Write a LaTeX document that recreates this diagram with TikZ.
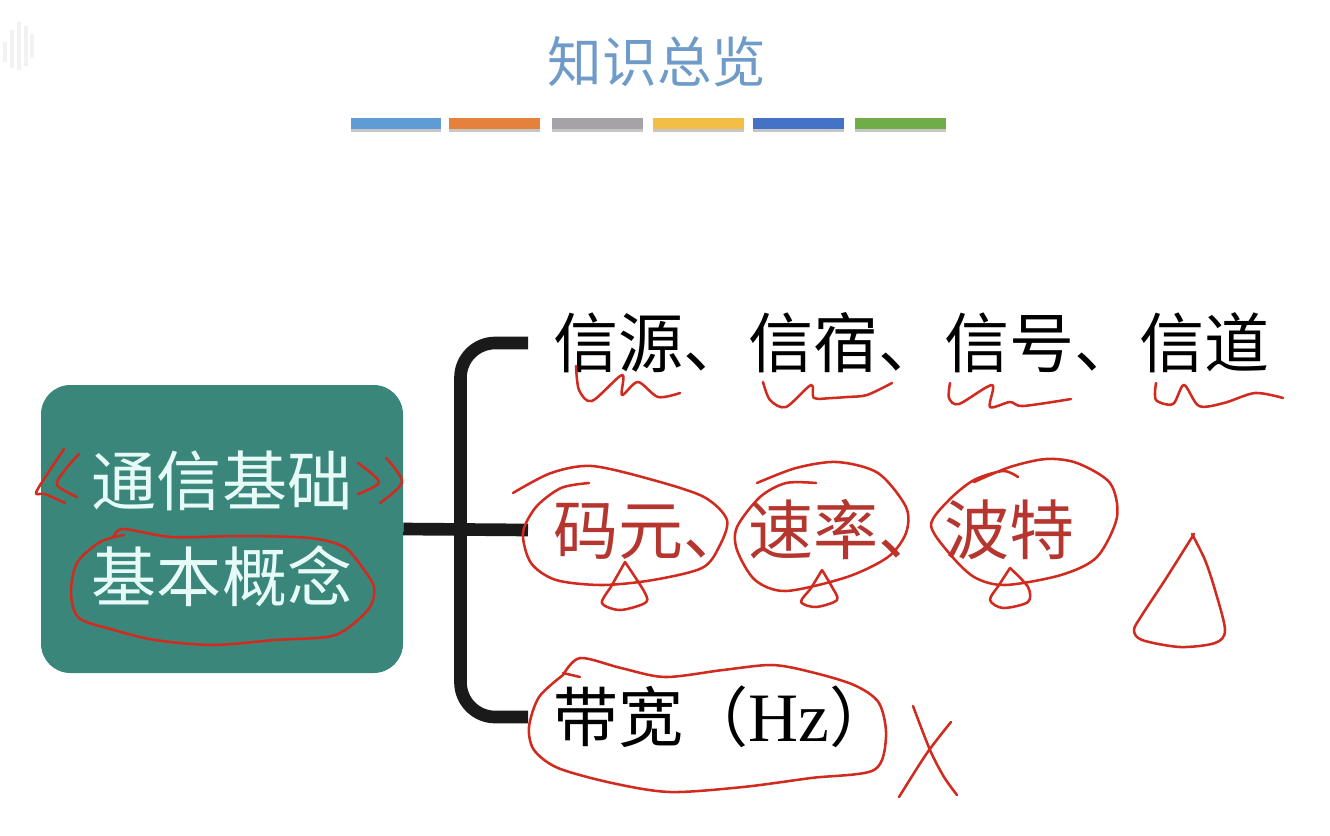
\documentclass[tikz,border=0pt]{standalone}
\usepackage{fontspec}
\newfontfamily\cjk{Noto Sans CJK SC}
\newfontfamily\hzfont{Liberation Serif}
\usetikzlibrary{shadows}
\definecolor{tealbox}{HTML}{3A867A}
\definecolor{boxtext}{HTML}{E6FBF8}
\definecolor{titleblue}{HTML}{6F9BC8}
\definecolor{inkred}{HTML}{D12A1F}
\definecolor{redtext}{HTML}{B5352F}
\definecolor{barblack}{HTML}{1A1A1A}
\definecolor{barA}{HTML}{5F9BD5}
\definecolor{barB}{HTML}{E5813C}
\definecolor{barC}{HTML}{A5A3A8}
\definecolor{barD}{HTML}{F2BE45}
\definecolor{barE}{HTML}{4472C4}
\definecolor{barF}{HTML}{70AD47}
\tikzstyle{ink} = [draw=inkred, line width=1.9pt, line cap=round, line join=round]
\tikzstyle{brace} = [draw=barblack, line width=9.5pt]
\tikzstyle{rowtext} = [anchor=west, inner xsep=19pt, inner ysep=0pt, font=\cjk\fontsize{48.8pt}{56pt}\selectfont]
\tikzstyle{colorbar} = [minimum height=8pt, inner sep=0pt, drop shadow={shadow xshift=0pt, shadow yshift=-2pt, opacity=0.45}]

\begin{document}
\begin{tikzpicture}[x=0.75pt, y=-0.75pt]
          \useasboundingbox (0,0) rectangle (1330,835);

          % Faint mark in the corner
          \foreach \xa/\ya/\yb in {3/42/62, 10/30/68, 17/22/70, 24/26/66, 30/34/58}
            \fill[black!5] (\xa,\ya) rectangle ({\xa+4},\yb);

          % Node positions
          \node[text=titleblue, font=\cjk\fontsize{41pt}{48pt}\selectfont] (title) at (657,62) {知识总览};
          \node[fill=tealbox, text=boxtext, rounded corners=22pt, minimum width=271.5pt, minimum height=216pt,
                align=center, font=\cjk\fontsize{48.8pt}{72pt}\selectfont] (base) at (222,529) {通信基础\\基本概念};
          \node[rowtext] (rowA) at (528,343) {信源、信宿、信号、信道};
          \node[rowtext, text=redtext] (rowB) at (528,530) {码元、速率、波特};
          \node[rowtext] (rowC) at (528,717) {带宽（{\hzfont\fontsize{52pt}{56pt}\selectfont Hz}）};
          \coordinate (spine) at (460.5,530);

          % Colour bars under the title
          \foreach \name/\xa/\xb in {barA/351/441, barB/449/540, barC/552/643, barD/653/744, barE/753/844, barF/855/946}
            \node[colorbar, fill=\name, minimum width={(\xb-\xa)*0.75pt}] (\name) at ({(\xa+\xb)/2},123.5) {};

          % Edges
          \draw[brace] (base.east) -- (rowB.west);
          \draw[brace, rounded corners=26pt] (rowA.west) -| (spine) |- (rowC.west);

          % Pen marks: brackets round the title of the box
          \draw[ink] plot[smooth] coordinates {(64,449) (48,473) (36,493) (45,494) (65,503)};
          \draw[ink] plot[smooth] coordinates {(79,454) (65,470) (57,485) (77,497)};
          \draw[ink] plot[smooth] coordinates {(358,463) (379,482) (358,494)};
          \draw[ink] plot[smooth] coordinates {(386,458) (402,482) (380,503)};
          \draw[ink] plot[smooth] coordinates {(114,536) (124,529) (172,537) (241,536) (310,538) (344,547) (362,567) (374,587) (370,607) (348,628) (327,637) (275,640) (213,645) (155,640) (114,630) (79,618) (71,593) (77,563) (100,542) (124,535)};

          % Pen marks: first row
          \draw[ink] plot[smooth] coordinates {(576,366) (579,390) (592,401) (622,375) (622,395) (638,382) (658,397) (680,393)};
          \draw[ink] plot[smooth] coordinates {(763,382) (770,400) (786,407) (811,385) (814,398) (832,398) (847,397) (867,395) (892,383)};
          \draw[ink] plot[smooth] coordinates {(950,383) (949,398) (959,404) (992,385) (990,407) (1010,402) (1023,406) (1071,399)};
          \draw[ink] plot[smooth] coordinates {(1156,383) (1156,400) (1173,404) (1184,385) (1199,406) (1224,403) (1255,393) (1283,398)};

          % Pen marks: second row
          \draw[ink] plot[smooth] coordinates {(513,493) (551,473) (592,466) (653,480) (704,497) (727,520) (719,547) (702,568) (653,580) (602,585) (556,580) (531,563) (523,533) (536,507) (561,488) (589,483)};
          \draw[ink] plot[smooth] coordinates {(625,562) (612,585) (602,603) (620,610) (645,603) (645,593) (625,562)};
          \draw[ink] plot[smooth] coordinates {(757,483) (796,468) (837,462) (878,473) (906,507) (906,533) (888,557) (847,577) (786,591) (755,580) (737,550) (737,527) (760,497) (786,483) (816,483)};
          \draw[ink] plot[smooth] coordinates {(822,570) (811,588) (801,602) (816,607) (837,600) (832,587) (822,570)};
          \draw[ink] plot[smooth] coordinates {(1018,477) (1003,471) (974,480) (949,500) (931,525) (949,553) (974,577) (1005,585) (1061,575) (1097,557) (1117,517) (1110,483) (1077,463) (1046,459) (1010,467) (974,482)};
          \draw[ink] plot[smooth] coordinates {(1010,568) (999,585) (990,600) (1003,608) (1028,602) (1028,587) (1010,568)};
          \draw[ink] plot[smooth] coordinates {(1194,534) (1165,580) (1142,615) (1134,630) (1142,640) (1180,647) (1215,643) (1225,630) (1215,590) (1205,560) (1192,534)};

          % Pen marks: third row
          \draw[ink] plot[smooth] coordinates {(563,673) (580,677)};
          \draw[ink] plot[smooth] coordinates {(563,675) (580,658) (621,668) (665,677) (723,670) (772,665) (811,672) (854,685) (879,703) (886,737) (874,770) (811,778) (743,787) (670,792) (612,783) (558,768) (534,750) (529,727) (539,697) (563,675)};
          \draw[ink] plot[smooth] coordinates {(913,706) (930,750) (944,777) (957,795)};
          \draw[ink] plot[smooth] coordinates {(951,722) (927,753) (899,797)};

        \end{tikzpicture}
\end{document}
